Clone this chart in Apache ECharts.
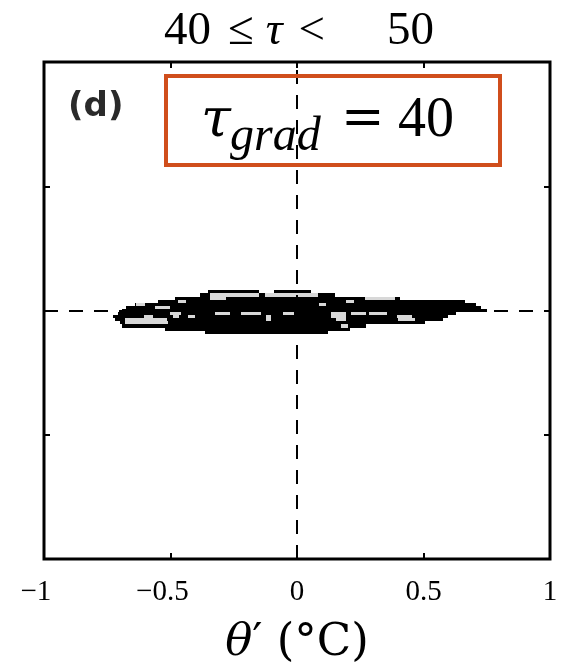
<!DOCTYPE html>
<html>
<head>
<meta charset="utf-8">
<title>θ′ distribution, 40 ≤ τ < 50</title>
<script src="https://cdn.jsdelivr.net/npm/echarts@6/dist/echarts.min.js"></script>
<style>
  html, body { margin: 0; padding: 0; background: #fff; }
  #chart { width: 564px; height: 671px; }
</style>
</head>
<body>
<div id="chart"></div>
<script>
// Tick positions along θ′ (°C) and the hidden vertical axis
const xTicks = [-1, -0.5, 0, 0.5, 1];
const yTicks = [-1, -0.5, 0, 0.5, 1];

// Height of one histogram row (vertical bin width)
const rowHeight = 0.0125;

// Occupied bins, stored as runs per row: [row centre, θ′ start, θ′ end]
const filledRuns = [
  [0.075, -0.352, -0.150],
  [0.075, -0.091, 0.055],
  [0.0625, -0.383, 0.150],
  [0.05, -0.482, 0.407],
  [0.0375, -0.549, 0.664],
  [0.025, -0.640, 0.708],
  [0.0125, -0.676, 0.727],
  [0, -0.692, 0.751],
  [-0.0125, -0.708, 0.630],
  [-0.025, -0.727, 0.597],
  [-0.0375, -0.719, 0.577],
  [-0.05, -0.700, 0.506],
  [-0.0625, -0.692, 0.273],
  [-0.075, -0.522, 0.209],
  [-0.0875, -0.364, 0.123]
];

// Lower-density bins inside the filled region: [row centre, θ′ start, θ′ end]
const sparseRuns = [
  [0.0625, -0.344, -0.150], [0.0625, -0.126, 0.083],
  [0.05, 0.269, 0.387], [0.05, -0.344, -0.281],
  [0.0375, -0.470, -0.439], [0.0375, 0.194, 0.225],
  [0.025, -0.636, -0.601], [0.025, 0.087, 0.115],
  [0.0125, -0.561, -0.502],
  [-0.0125, -0.502, -0.458], [-0.0125, -0.324, -0.265], [-0.0125, -0.221, -0.142],
  [-0.0125, -0.055, -0.012], [-0.0125, 0.134, 0.194], [-0.0125, 0.213, 0.273],
  [-0.0125, 0.285, 0.356],
  [-0.025, -0.605, -0.569], [-0.025, -0.490, -0.466], [-0.025, -0.431, -0.403],
  [-0.025, -0.123, -0.103], [-0.025, 0.134, 0.194], [-0.025, 0.395, 0.455],
  [-0.0375, -0.680, -0.514], [-0.0375, -0.123, -0.103], [-0.0375, 0.154, 0.194],
  [-0.0375, 0.399, 0.466],
  [-0.05, -0.680, -0.510],
  [-0.0625, 0.174, 0.202]
];

const chart = echarts.init(document.getElementById('chart'), null, { renderer: 'canvas' });

// Draws one run of bins as a rectangle, snapping edges to whole pixels
function runRenderer(fill) {
  return function (params, api) {
    const yc = api.value(0), x0 = api.value(1), x1 = api.value(2);
    const a = api.coord([x0, yc + rowHeight / 2]);
    const b = api.coord([x1, yc - rowHeight / 2]);
    const left = Math.round(a[0]), right = Math.round(b[0]);
    const top = Math.round(a[1]), bottom = Math.round(b[1]);
    return {
      type: 'rect',
      shape: { x: left, y: top, width: right - left, height: bottom - top },
      style: { fill: fill }
    };
  };
}

function tickLabel(v) {
  const s = String(Math.abs(v));
  // negative labels keep the digits centred on the tick; the minus hangs left
  return v < 0 ? '{n|−' + s + '}{h|−}' : '{n|' + s + '}';
}

const serif = 'Liberation Serif';
const wideSerif = 'DejaVu Serif';
const tickStyle = { show: true, inside: true, length: 6, lineStyle: { color: '#000', width: 2 } };

function frameAxis(position, extra) {
  return Object.assign({
    type: 'value', min: -1, max: 1, interval: 0.5, position: position,
    axisLine: { show: false, onZero: false },
    axisTick: tickStyle,
    splitLine: { show: false },
    axisLabel: { show: false }
  }, extra || {});
}

const option = {
  animation: false,
  backgroundColor: '#fff',
  title: {
    text: '{n|40}{g1|}{n|≤}{g2|}{i|τ}{g3|}{n|<}{g4|}{n|50}',
    left: 159,
    top: 3,
    textStyle: {
      fontWeight: 'normal',
      rich: {
        n: { fontFamily: serif, fontSize: 47, fontWeight: 'normal', color: '#000' },
        i: { fontFamily: serif, fontSize: 47, fontWeight: 'normal', fontStyle: 'italic', color: '#000' },
        g1: { width: 17 },
        g2: { width: 12 },
        g3: { width: 16 },
        g4: { width: 62 }
      }
    }
  },
  grid: {
    left: 44, right: 14, top: 62, bottom: 104,
    show: true, borderColor: '#000', borderWidth: 3, backgroundColor: '#fff'
  },
  xAxis: [
    frameAxis('bottom', {
      axisLabel: {
        show: true,
        margin: 19,
        formatter: tickLabel,
        rich: {
          n: { fontFamily: serif, fontSize: 29, color: '#000' },
          h: { fontFamily: serif, fontSize: 29, color: 'rgba(0,0,0,0)' }
        }
      },
      name: '{i|θ}{n|′ (°C)}',
      nameLocation: 'middle',
      nameGap: 62,
      nameTextStyle: {
        rich: {
          i: { fontFamily: wideSerif, fontSize: 45, fontStyle: 'italic', color: '#000' },
          n: { fontFamily: wideSerif, fontSize: 45, color: '#000' }
        }
      }
    }),
    frameAxis('top')
  ],
  yAxis: [
    frameAxis('left'),
    frameAxis('right')
  ],
  series: [
    {
      type: 'custom',
      name: 'filled',
      renderItem: runRenderer('#000'),
      encode: { x: [1, 2], y: 0 },
      data: filledRuns,
      z: 2,
      silent: true
    },
    {
      type: 'custom',
      name: 'sparse',
      renderItem: runRenderer('#d8d8d8'),
      encode: { x: [1, 2], y: 0 },
      data: sparseRuns,
      z: 3,
      silent: true,
      markLine: {
        silent: true,
        symbol: 'none',
        label: { show: false },
        lineStyle: { color: '#000', width: 2, type: [14, 11] },
        data: [{ xAxis: 0 }, { yAxis: 0 }]
      }
    }
  ],
  graphic: [
    {
      type: 'text', left: 68, top: 90, z: 10,
      style: { text: '(d)', font: 'bold 34px "DejaVu Sans"', fill: '#2a2a2a' }
    },
    {
      type: 'rect', z: 10,
      shape: { x: 166, y: 76, width: 334, height: 89 },
      style: { fill: 'rgba(0,0,0,0)', stroke: '#D04E1C', lineWidth: 4 }
    },
    {
      type: 'text', x: 201, y: 149, z: 11,
      style: { text: 'τ', font: 'italic 54px "DejaVu Serif"', fill: '#000', textVerticalAlign: 'bottom' }
    },
    {
      type: 'text', x: 230, y: 161, z: 11,
      style: { text: 'grad', font: 'italic 48px "Liberation Serif"', fill: '#000', textVerticalAlign: 'bottom' }
    },
    {
      type: 'text', x: 341, y: 146, z: 11,
      style: { text: '=', font: '52px "DejaVu Serif"', fill: '#000', textVerticalAlign: 'bottom' }
    },
    {
      type: 'text', x: 398, y: 149, z: 11,
      style: { text: '40', font: '56px "Liberation Serif"', fill: '#000', textVerticalAlign: 'bottom' }
    }
  ]
};

chart.setOption(option);
</script>
</body>
</html>
